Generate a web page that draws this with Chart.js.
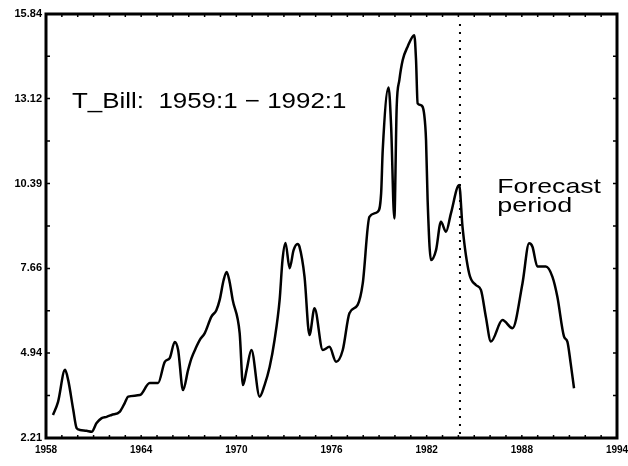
<!DOCTYPE html>
<html><head><meta charset="utf-8">
<script src="https://cdn.jsdelivr.net/npm/chart.js@4"></script>
<style>html,body{margin:0;padding:0;background:#fff;} canvas{display:block;}</style>
</head><body>
<canvas id="c" width="628" height="466"></canvas>
<script>
// ---- data (x position in axis years, y = T-Bill rate) ----
const years = [1958.44,1958.76,1959.20,1959.40,1959.72,1959.93,1960.14,1960.56,1960.88,1961.19,
  1961.51,1961.82,1962.13,1962.66,1962.97,1963.18,1963.92,1964.54,1965.07,1965.49,
  1965.80,1966.12,1966.33,1966.64,1966.96,1967.17,1967.48,1967.69,1968.01,1968.43,
  1968.74,1968.95,1969.20,1969.39,1969.58,1969.77,1970.21,1970.42,1970.65,1970.95,
  1971.47,1971.78,1972.10,1972.41,1972.73,1972.91,1973.10,1973.36,1973.61,1973.86,
  1973.98,1974.30,1974.61,1974.93,1975.45,1975.87,1976.29,1976.71,1977.13,1977.65,
  1977.97,1978.39,1978.91,1979.13,1979.23,1979.60,1979.76,1979.96,1980.11,1980.28,
  1980.49,1980.80,1981.22,1981.33,1981.43,1981.64,1981.85,1981.96,1982.06,1982.27,
  1982.59,1982.90,1983.22,1983.53,1984.05,1984.26,1984.68,1985.10,1985.42,1985.73,
  1986.05,1986.78,1987.41,1988.04,1988.46,1988.67,1988.98,1989.51,1989.93,1990.24,
  1990.66,1990.87,1991.08,1991.29];
const tbill = [2.95,3.37,4.40,4.07,3.11,2.53,2.47,2.44,2.41,2.69,
  2.85,2.89,2.95,3.06,3.34,3.54,3.59,3.98,3.98,4.66,
  4.78,5.30,5.04,3.75,4.40,4.77,5.14,5.36,5.58,6.11,
  6.32,6.65,7.29,7.55,7.22,6.65,5.58,3.91,4.40,5.04,
  3.54,3.91,4.49,5.36,6.65,7.93,8.48,7.67,8.25,8.45,
  8.36,7.39,5.52,6.38,5.04,5.14,4.66,5.04,6.22,6.49,
  7.18,9.32,9.48,10.08,11.47,13.48,12.22,9.27,12.86,13.72,
  14.36,14.79,15.16,14.36,12.97,12.91,12.59,11.79,9.86,7.93,
  8.25,9.16,8.84,9.43,10.34,9.00,7.50,7.13,6.97,6.11,
  5.31,6.00,5.74,7.18,8.47,8.36,7.72,7.72,7.39,6.75,
  5.47,5.31,4.61,3.81];
const xTicks = [1958,1964,1970,1976,1982,1988,1994];
const yTicks = [2.21,4.94,7.66,10.39,13.12,15.84];
const yTickLabels = ['2.21','4.94','7.66','10.39','13.12','15.84'];
const forecastStart = 1984.1;
const titleText = 'T_Bill:  1959:1 \u2212 1992:1';
const noteLines = ['Forecast','period'];

// ---- annotation placement (data units) ----
const annotations = [
  {text: titleText,    x0: 1959.64, x1: 1976.94, y: 12.82, size: 22},
  {text: noteLines[0], x0: 1986.45, x1: 1992.99, y: 10.09, size: 21},
  {text: noteLines[1], x0: 1986.45, x1: 1991.17, y: 9.47,  size: 21}
];

const points = years.map((x, i) => ({x: x, y: tbill[i]}));

const decorPlugin = {
  id: 'decor',
  beforeDraw(chart) {
    const ctx = chart.ctx;
    ctx.save(); ctx.fillStyle = '#fff'; ctx.fillRect(0, 0, chart.width, chart.height); ctx.restore();
  },
  afterDatasetsDraw(chart) {
    const {ctx, chartArea: a, scales: {x, y}} = chart;
    ctx.save();
    ctx.strokeStyle = '#000'; ctx.fillStyle = '#000';
    // dotted forecast divider
    const fx = x.getPixelForValue(forecastStart);
    ctx.lineWidth = 2; ctx.setLineDash([2, 6]);
    ctx.beginPath(); ctx.moveTo(fx, a.top + 10); ctx.lineTo(fx, a.bottom - 3); ctx.stroke();
    ctx.setLineDash([]);
    // frame
    ctx.lineWidth = 3;
    ctx.strokeRect(a.left, a.top, a.right - a.left, a.bottom - a.top);
    // small inward ticks
    ctx.lineWidth = 1.5;
    ctx.beginPath();
    for (let yr = xTicks[0] + 1; yr < xTicks[xTicks.length - 1]; yr++) {
      const px = x.getPixelForValue(yr);
      ctx.moveTo(px, a.bottom); ctx.lineTo(px, a.bottom - 3);
      ctx.moveTo(px, a.top); ctx.lineTo(px, a.top + 3);
    }
    for (let i = 0; i < yTicks.length - 1; i++) {
      for (const v of [yTicks[i], (yTicks[i] + yTicks[i + 1]) / 2]) {
        const py = y.getPixelForValue(v);
        ctx.moveTo(a.left, py); ctx.lineTo(a.left + 4, py);
        ctx.moveTo(a.right, py); ctx.lineTo(a.right - 4, py);
      }
    }
    ctx.stroke();
    // texts
    ctx.textBaseline = 'alphabetic'; ctx.textAlign = 'left';
    for (const t of annotations) {
      ctx.font = t.size + 'px "Liberation Sans", Arial, sans-serif';
      const px0 = x.getPixelForValue(t.x0), px1 = x.getPixelForValue(t.x1);
      const w = ctx.measureText(t.text).width;
      ctx.save();
      ctx.translate(px0, y.getPixelForValue(t.y));
      ctx.scale((px1 - px0) / w, 1);
      ctx.fillText(t.text, 0, 0);
      ctx.restore();
    }
    ctx.restore();
  }
};

new Chart(document.getElementById('c'), {
  type: 'line',
  data: { datasets: [{ data: points, borderColor: '#000', borderWidth: 2.5, pointRadius: 0,
    cubicInterpolationMode: 'monotone', fill: false }] },
  options: {
    responsive: false, animation: false, devicePixelRatio: 1,
    layout: { padding: { top: 14, right: 11, left: 0, bottom: 0 } },
    plugins: { legend: { display: false }, tooltip: { enabled: false }, title: { display: false } },
    scales: {
      x: {
        type: 'linear', min: xTicks[0], max: xTicks[xTicks.length - 1],
        afterBuildTicks: s => { s.ticks = xTicks.map(v => ({ value: v })); },
        afterFit: s => { s.height = 28; s.paddingLeft = 0; s.paddingRight = 0; },
        grid: { display: true, drawOnChartArea: false, drawTicks: false },
        border: { display: false },
        ticks: { color: '#000', padding: 6, maxRotation: 0, autoSkip: false,
          font: { family: '"Liberation Sans", Arial', size: 10, weight: 'bold' },
          callback: v => String(v) }
      },
      y: {
        min: yTicks[0], max: yTicks[yTicks.length - 1],
        afterBuildTicks: s => { s.ticks = yTicks.map(v => ({ value: v })); },
        afterFit: s => { s.width = 46; s.paddingTop = 0; s.paddingBottom = 0; },
        grid: { display: true, drawOnChartArea: false, drawTicks: false },
        border: { display: false },
        ticks: { color: '#000', padding: 4, autoSkip: false,
          font: { family: '"Liberation Sans", Arial', size: 11, weight: 'bold' },
          callback: (v, i) => yTickLabels[i] }
      }
    }
  },
  plugins: [decorPlugin]
});
</script>
</body></html>
